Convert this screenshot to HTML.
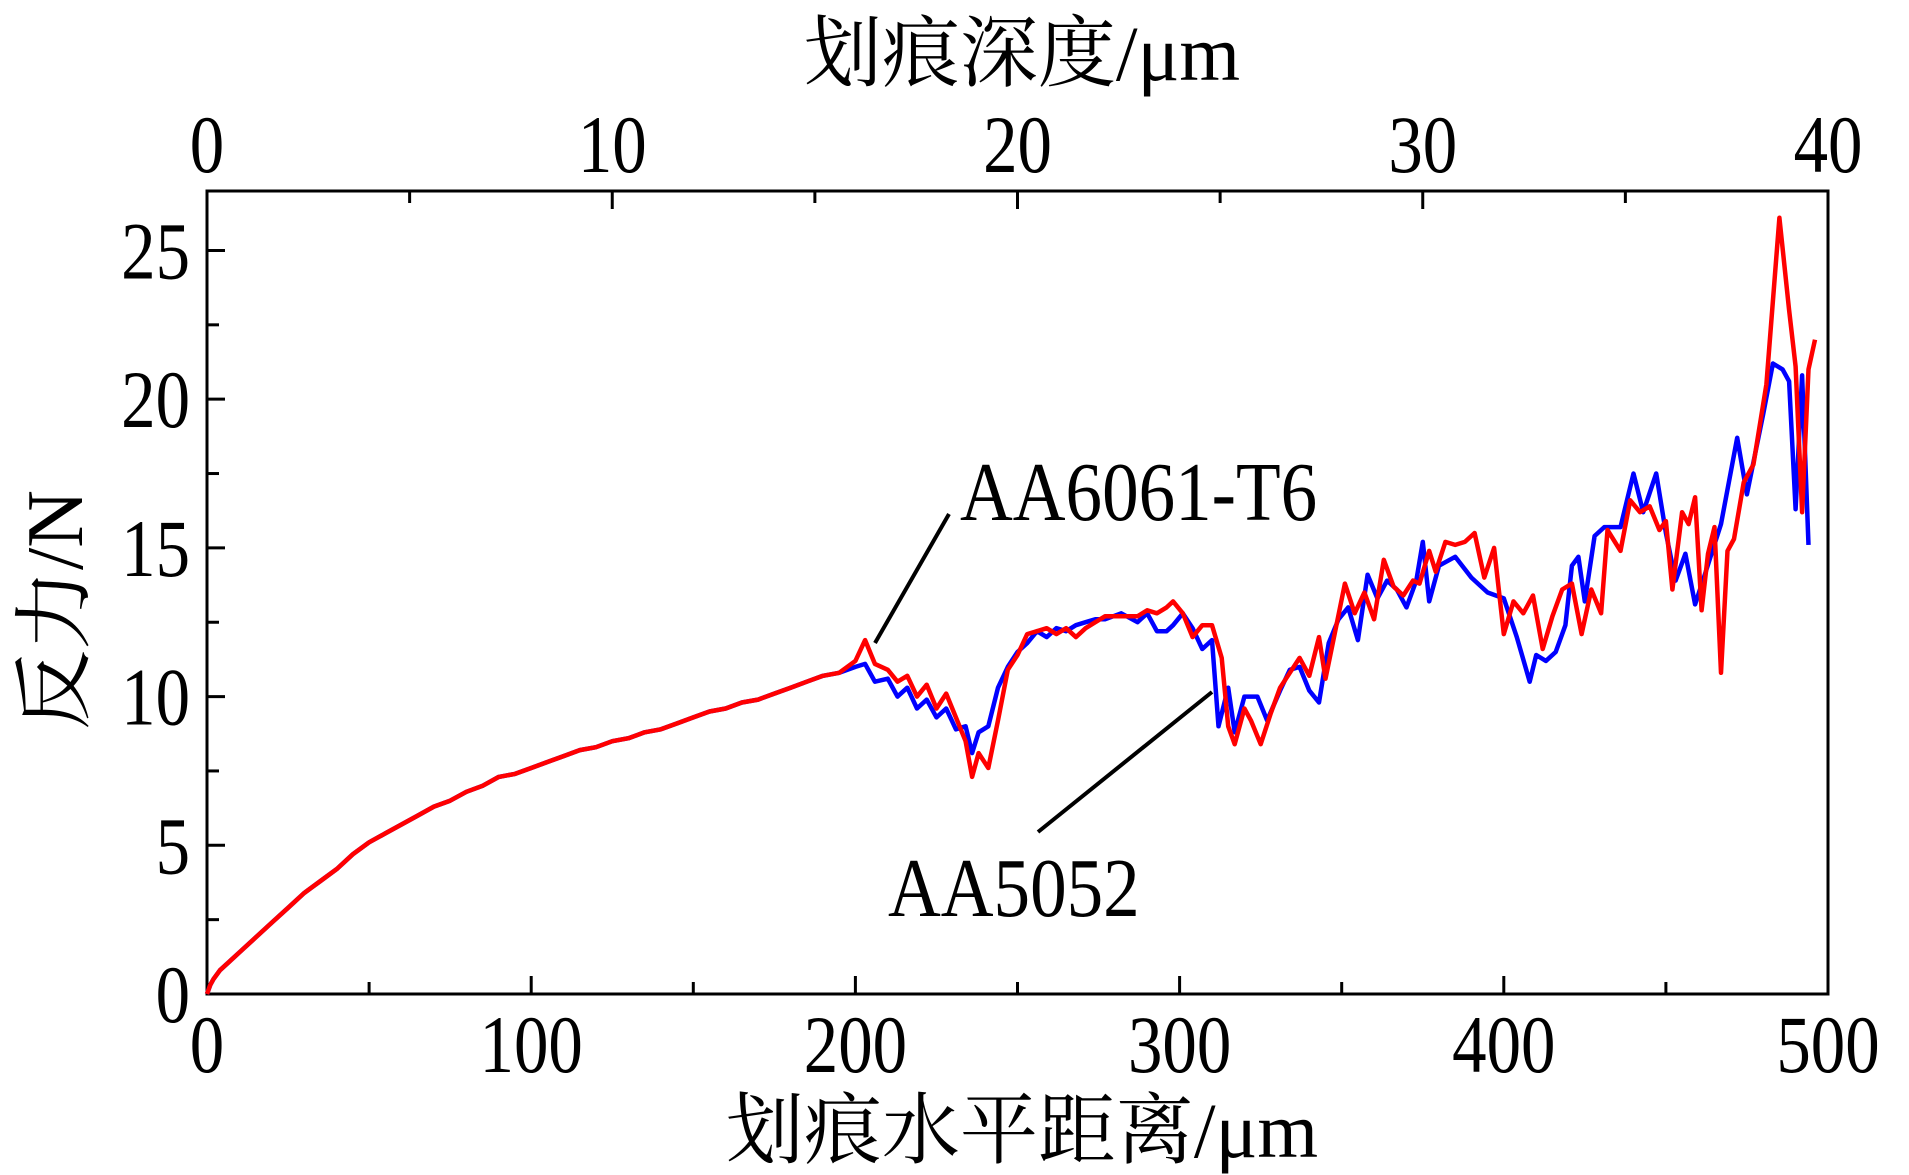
<!DOCTYPE html>
<html><head><meta charset="utf-8"><style>
html,body{margin:0;padding:0;background:#fff;}
svg{display:block;font-family:"Liberation Serif","Noto Serif CJK SC",serif;}
</style></head><body>
<svg id="chart" width="1909" height="1175" viewBox="0 0 1909 1175" xmlns="http://www.w3.org/2000/svg">
<text x="1022" y="80" font-size="78" text-anchor="middle">划痕深度/μm</text>
<text x="1022" y="1157" font-size="78" text-anchor="middle">划痕水平距离/μm</text>
<text x="0" y="0" font-size="80" text-anchor="middle" transform="translate(82,610) rotate(-90)">反力/N</text>
<g id="axes"></g>
<g id="series"></g>
<line x1="875" y1="643" x2="949" y2="514" stroke="#000" stroke-width="4"/>
<text x="0" y="0" font-size="84" transform="translate(960,520) scale(0.87,1)">AA6061-T6</text>
<line x1="1212" y1="692" x2="1038" y2="832" stroke="#000" stroke-width="4"/>
<text x="0" y="0" font-size="84" transform="translate(888,916) scale(0.87,1)">AA5052</text>
</svg>
<script>
const xTicks=[0,100,200,300,400,500];
const topTicks=[0,10,20,30,40];
const yTicks=[0,5,10,15,20,25];
const smoothX=[0,1,2,4,7,10,15,20,25,30,35,40,45,50,55,60,65,70,75,80,85,90,95,100,105,110,115,120,125,130,135,140,145,150,155,160,165,170,175,180,185,190,195];
const smoothY=[0,0.3,0.5,0.8,1.1,1.4,1.9,2.4,2.9,3.4,3.8,4.2,4.7,5.1,5.4,5.7,6.0,6.3,6.5,6.8,7.0,7.3,7.4,7.6,7.8,8.0,8.2,8.3,8.5,8.6,8.8,8.9,9.1,9.3,9.5,9.6,9.8,9.9,10.1,10.3,10.5,10.7,10.8];
const redX=[200,203,206,210,213,216,219,222,225,228,231,234,236,238,241,244,247,250,253,256,259,262,265,268,271,274,277,282,287,290,293,296,298,301,304,307,310,313,315,317,320,322,325,328,331,334,337,340,343,345,348,351,354,357,360,363,366,369,372,374,377,379,382,385,388,391,394,397,400,403,406,409,412,415,418,421,424,427,430,432,436,439,442,445,448,450,452,455,457,459,461,463,465,467,469,471,474,477,481,485,488,490,492,494,496];
const redY=[11.2,11.9,11.1,10.9,10.5,10.7,10.0,10.4,9.6,10.1,9.3,8.5,7.3,8.1,7.6,9.2,10.9,11.4,12.1,12.2,12.3,12.1,12.3,12.0,12.3,12.5,12.7,12.7,12.7,12.9,12.8,13.0,13.2,12.8,12.0,12.4,12.4,11.3,9.0,8.4,9.6,9.2,8.4,9.4,10.3,10.8,11.3,10.7,12.0,10.6,12.2,13.8,12.8,13.5,12.6,14.6,13.7,13.4,13.9,13.8,14.9,14.2,15.2,15.1,15.2,15.5,14.0,15.0,12.1,13.2,12.8,13.4,11.6,12.7,13.6,13.8,12.1,13.6,12.8,15.6,14.9,16.6,16.2,16.4,15.6,15.9,13.6,16.2,15.8,16.7,12.9,14.8,15.7,10.8,14.9,15.3,17.2,17.8,20.5,26.1,23.0,21.1,16.2,21.0,22.0];
const blueX=[200,203,206,210,213,216,219,222,225,228,231,234,236,238,241,244,247,250,253,256,259,262,265,268,271,274,277,282,287,290,293,296,298,301,304,307,310,312,315,317,320,324,327,331,334,337,340,343,346,349,352,355,358,361,364,367,370,373,375,377,380,385,390,395,400,404,408,410,413,416,419,421,423,425,428,431,436,440,443,447,450,453,456,459,462,467,472,475,480,483,486,488,490,492,494];
const blueY=[11.0,11.1,10.5,10.6,10.0,10.3,9.6,9.9,9.3,9.6,8.9,9.0,8.1,8.8,9.0,10.3,11.0,11.5,11.8,12.2,12.0,12.3,12.2,12.4,12.5,12.6,12.6,12.8,12.5,12.8,12.2,12.2,12.4,12.8,12.3,11.6,11.9,9.0,10.3,8.8,10.0,10.0,9.2,10.2,10.9,11.0,10.2,9.8,11.8,12.6,13.0,11.9,14.1,13.3,13.9,13.6,13.0,13.9,15.2,13.2,14.4,14.7,14.0,13.5,13.3,12.0,10.5,11.4,11.2,11.5,12.4,14.4,14.7,13.2,15.4,15.7,15.7,17.5,16.2,17.5,15.5,13.9,14.8,13.1,14.1,15.8,18.7,16.8,19.5,21.2,21.0,20.6,16.3,20.8,15.1];

const X0=207,X1=1828,Y0=994,YT=191;
const sx=v=>X0+(v/500)*(X1-X0);
const sxTop=v=>X0+(v/40)*(X1-X0);
const sy=v=>Y0-(v/27)*(Y0-YT);
const NS='http://www.w3.org/2000/svg';
const axes=document.getElementById('axes');
const ser=document.getElementById('series');
function mk(tag,attrs,parent){const e=document.createElementNS(NS,tag);for(const k in attrs)e.setAttribute(k,attrs[k]);parent.appendChild(e);return e;}
const FS=82, SX=0.84;

const frame=mk('rect',{x:X0,y:YT,width:X1-X0,height:Y0-YT,fill:'none',stroke:'#000','stroke-width':3},axes);



for(let v=0;v<=500;v+=50){
  const major=v%100===0;const L=major?18:12;
  const t=mk('line',{x1:sx(v),x2:sx(v),y1:Y0,y2:Y0-L,stroke:'#000','stroke-width':3},axes);
  
  
}
xTicks.forEach(v=>{
  const t=mk('text',{x:0,y:0,'font-size':FS,'text-anchor':'middle',transform:`translate(${sx(v)},1072) scale(${SX},1)`},axes);t.textContent=v;
  
  
});
for(let v=0;v<=40;v+=5){
  const major=v%10===0;const L=major?18:12;
  const t=mk('line',{x1:sxTop(v),x2:sxTop(v),y1:YT,y2:YT+L,stroke:'#000','stroke-width':3},axes);
  
  
}
topTicks.forEach(v=>{
  const t=mk('text',{x:0,y:0,'font-size':FS,'text-anchor':'middle',transform:`translate(${sxTop(v)},172) scale(${SX},1)`},axes);t.textContent=v;
  
  
});
for(let v=0;v<=25;v+=2.5){
  const major=v%5===0;const L=major?18:12;
  const t=mk('line',{x1:X0,x2:X0+L,y1:sy(v),y2:sy(v),stroke:'#000','stroke-width':3},axes);
  
  
}
yTicks.forEach(v=>{
  const t=mk('text',{x:0,y:0,'font-size':FS,'text-anchor':'end',transform:`translate(190,${sy(v)+28}) scale(${SX},1)`},axes);t.textContent=v;
  
  
});

function pts(xs,ys){const a=[];smoothX.forEach((x,i)=>a.push(sx(x).toFixed(1)+','+sy(smoothY[i]).toFixed(1)));xs.forEach((x,i)=>a.push(sx(x).toFixed(1)+','+sy(ys[i]).toFixed(1)));return a.join(' ');}
const blue=mk('polyline',{points:pts(blueX,blueY),fill:'none',stroke:'#0000ff','stroke-width':4.5,'stroke-linejoin':'round'},ser);


const red=mk('polyline',{points:pts(redX,redY),fill:'none',stroke:'#ff0000','stroke-width':4.5,'stroke-linejoin':'round'},ser);


</script>
</body></html>
